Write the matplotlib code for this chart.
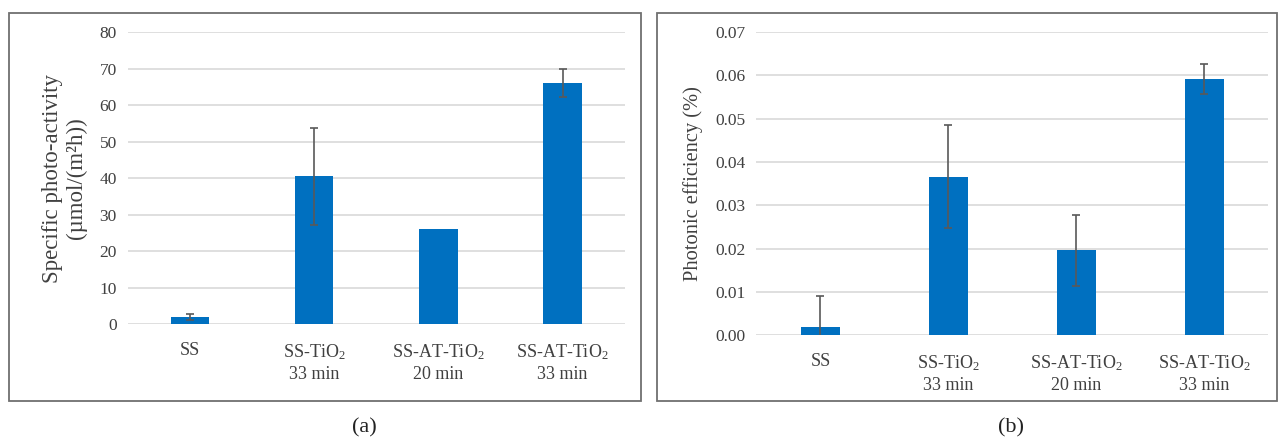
import numpy as np
import matplotlib.pyplot as plt
from matplotlib.patches import Rectangle

plt.rcParams['font.family'] = ['Liberation Serif', 'DejaVu Serif']
plt.rcParams['mathtext.fontset'] = 'custom'
plt.rcParams['mathtext.rm'] = 'Liberation Serif'
plt.rcParams['mathtext.it'] = 'Liberation Serif:italic'

# data
samples = ['SS', 'SS-TiO$_2$\n33 min', 'SS-AT-TiO$_2$\n20 min', 'SS-AT-TiO$_2$\n33 min']
activity = [2.0, 40.5, 26.0, 66.0]
activity_err = [0.8, 13.3, 0.0, 3.8]   # 20 min has no error bar
efficiency = [0.0018, 0.0366, 0.0196, 0.0592]
efficiency_err = [0.0072, 0.0119, 0.0082, 0.0035]

bar_col = '#0070C0'
err_col = '#595959'
grid_col = '#D9D9D9'
txt_col = '#404040'

fig = plt.figure(figsize=(12.8, 4.41), dpi=100)

# panel frames
for x0, x1 in [(9, 641), (657, 1277)]:
    fig.patches.append(Rectangle((x0 / 1280, 1 - 401 / 441), (x1 - x0) / 1280, 388 / 441,
                                 transform=fig.transFigure, fill=False,
                                 edgecolor='#707070', linewidth=1.3))

def panel(ax, vals, errs, yticks, fmt):
    x = np.arange(len(samples))
    ax.bar(x, vals, width=0.31, color=bar_col, zorder=2)
    vals = np.array(vals)
    errs = np.array(errs)
    m = errs > 0
    ax.errorbar(x[m], vals[m], yerr=errs[m], fmt='none', ecolor=err_col, elinewidth=1.2,
                capsize=3, capthick=1.2, zorder=3)
    ax.set_xlim(-0.5, 3.5)
    ax.set_ylim(yticks[0], yticks[-1])
    ax.set_yticks(yticks)
    ax.set_yticklabels([fmt.format(v) for v in yticks], fontsize=12.5, color=txt_col)
    ax.set_xticks(x)
    ax.set_xticklabels(samples, fontsize=13, color=txt_col, linespacing=1.3)
    ax.grid(axis='y', color=grid_col, linewidth=1.2, zorder=0)
    ax.tick_params(length=0, pad=8)
    ax.tick_params(axis='x', pad=13)
    for s in ax.spines.values():
        s.set_visible(False)
    ax.set_axisbelow(True)

ax1 = fig.add_axes([0.1, 0.265, 0.388, 0.662])
panel(ax1, activity, activity_err, np.arange(0, 81, 10), '{:.0f}')
ax1.set_ylabel('Specific photo-activity\n(µmol/(m²h))', fontsize=16.5, color=txt_col,
               linespacing=1.15, labelpad=9)

ax2 = fig.add_axes([0.591, 0.240, 0.4, 0.687])
panel(ax2, efficiency, efficiency_err, np.round(np.arange(0, 0.071, 0.01), 2), '{:.2f}')
ax2.set_ylabel('Photonic efficiency (%)', fontsize=14.8, color=txt_col, labelpad=9)

fig.text(364 / 1280, 1 - 428 / 441, '(a)', ha='center', va='center', fontsize=16, color='#222222')
fig.text(1011 / 1280, 1 - 428 / 441, '(b)', ha='center', va='center', fontsize=16, color='#222222')

fig.savefig('out.png', dpi=100)
